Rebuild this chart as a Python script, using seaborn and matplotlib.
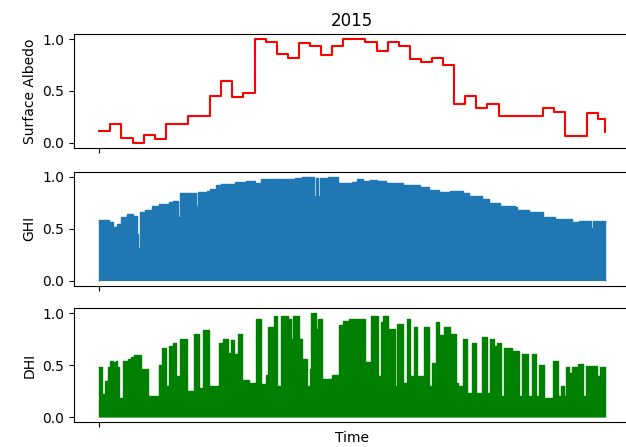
import numpy as np
import pandas as pd
import matplotlib
matplotlib.use("Agg")
import matplotlib.pyplot as plt
import seaborn as sns

# Normalised surface albedo, one value per 8-day composite period (day-of-year start)
albedo_start_day = list(range(0, 361, 8)) + [365]
albedo_value = [0.114, 0.185, 0.042, 0.0, 0.075, 0.04, 0.185, 0.185, 0.26, 0.26,
                0.45, 0.60, 0.445, 0.48, 1.0, 0.97, 0.855, 0.82, 0.965, 0.93,
                0.85, 0.93, 1.0, 1.0, 0.975, 0.89, 0.97, 0.93, 0.81, 0.78,
                0.82, 0.75, 0.37, 0.45, 0.335, 0.37, 0.26, 0.26, 0.26, 0.26,
                0.34, 0.30, 0.07, 0.07, 0.29, 0.23, 0.107]

# Normalised daily peak GHI, as runs: (first day of run, peak value)
ghi_start_day = [0, 7, 10, 13, 16, 20, 24, 27, 28, 29, 33, 38, 43, 50, 53, 57, 58,
                 65, 70, 71, 77, 78, 80, 84, 88, 98, 102, 103, 106, 112, 117, 130,
                 131, 141, 146, 155, 156, 158, 159, 165, 172, 182, 185, 186, 190,
                 195, 200, 207, 214, 219, 231, 238, 245, 252, 253, 262, 267, 276,
                 281, 289, 290, 300, 301, 302, 310, 320, 329, 341, 345, 346, 355, 356]
ghi_value = [0.58, 0.56, 0.52, 0.55, 0.61, 0.64, 0.62, 0.45, 0.31, 0.66, 0.68, 0.72,
             0.74, 0.76, 0.77, 0.61, 0.84, 0.845, 0.72, 0.85, 0.66, 0.86, 0.88, 0.92,
             0.935, 0.95, 0.90, 0.95, 0.96, 0.94, 0.977, 0.93, 0.98, 0.99, 1.0, 0.82,
             0.99, 0.82, 0.99, 1.0, 0.945, 0.95, 0.87, 0.975, 0.96, 0.97, 0.965,
             0.94, 0.945, 0.92, 0.90, 0.877, 0.855, 0.63, 0.86, 0.84, 0.82, 0.79,
             0.75, 0.56, 0.72, 0.71, 0.59, 0.68, 0.66, 0.617, 0.595, 0.56, 0.43,
             0.57, 0.51, 0.57]

# Normalised daily peak DHI, as runs: (first day of run, peak value)
dhi_start_day = [0, 2, 4, 6, 8, 10, 12, 13, 14, 17, 20, 21, 23, 25, 30, 35, 43, 45,
                 48, 50, 53, 55, 58, 63, 68, 72, 75, 79, 86, 89, 93, 95, 97, 100,
                 103, 108, 113, 117, 120, 122, 126, 128, 131, 136, 138, 140, 144,
                 146, 150, 152, 153, 156, 158, 161, 168, 173, 176, 180, 187, 188,
                 192, 196, 201, 203, 205, 208, 213, 215, 219, 222, 224, 227, 229,
                 234, 238, 240, 243, 245, 249, 253, 257, 259, 262, 265, 269, 272,
                 276, 280, 282, 285, 287, 290, 292, 298, 303, 305, 309, 312, 315,
                 317, 321, 327, 331, 333, 335, 337, 339, 341, 345, 349, 351, 359, 361]
dhi_value = [0.48, 0.22, 0.35, 0.48, 0.54, 0.53, 0.54, 0.48, 0.18, 0.54, 0.48, 0.56,
             0.58, 0.60, 0.46, 0.20, 0.50, 0.67, 0.30, 0.69, 0.72, 0.40, 0.755, 0.25,
             0.80, 0.28, 0.84, 0.30, 0.72, 0.755, 0.62, 0.74, 0.61, 0.80, 0.36, 0.33,
             0.95, 0.32, 0.41, 0.87, 0.98, 0.30, 0.98, 0.95, 0.755, 0.98, 0.755,
             0.56, 0.30, 0.46, 1.0, 0.85, 0.95, 0.365, 0.41, 0.89, 0.93, 0.95, 0.38,
             0.95, 0.53, 0.98, 0.40, 0.92, 0.98, 0.85, 0.30, 0.90, 0.33, 0.95, 0.40,
             0.87, 0.40, 0.87, 0.30, 0.52, 0.92, 0.79, 0.87, 0.80, 0.33, 0.30, 0.755,
             0.23, 0.72, 0.23, 0.77, 0.23, 0.755, 0.69, 0.72, 0.20, 0.67, 0.64, 0.20,
             0.61, 0.20, 0.61, 0.20, 0.50, 0.185, 0.54, 0.20, 0.30, 0.20, 0.48, 0.43,
             0.48, 0.51, 0.20, 0.49, 0.40, 0.48]

YEAR_DAYS = 365


def runs_to_frame(starts, values):
    """Expand run starts/values into one row per day plus a closing edge."""
    lengths = np.diff(list(starts) + [YEAR_DAYS])
    daily = np.repeat(values, lengths)
    day = np.arange(YEAR_DAYS + 1)
    return pd.DataFrame({"day": day, "value": np.append(daily, daily[-1])})


albedo_df = pd.DataFrame({"day": albedo_start_day, "value": albedo_value})
ghi_df = runs_to_frame(ghi_start_day, ghi_value)
dhi_df = runs_to_frame(dhi_start_day, dhi_value)

fig = plt.figure(figsize=(6.26, 4.47), dpi=100)
W, H = 626.0, 447.0
left, width, height = 74 / W, 556.6 / W, 114 / H
tops = [34, 171.7, 308.3]
axes = [fig.add_axes([left, 1 - (t + 114) / H, width, height]) for t in tops]
ax_alb, ax_ghi, ax_dhi = axes

sns.lineplot(data=albedo_df, x="day", y="value", ax=ax_alb, color="red",
             drawstyle="steps-post", linewidth=1.5)

for ax, df, color in [(ax_ghi, ghi_df, "#1f77b4"), (ax_dhi, dhi_df, "green")]:
    ax.fill_between(df["day"], df["value"], step="post", color=color, linewidth=0)
    sns.lineplot(data=df, x="day", y="value", ax=ax, color=color,
                 drawstyle="steps-post", linewidth=1.0)
    ax.vlines([0, YEAR_DAYS], 0, [df["value"].iloc[0], df["value"].iloc[-1]],
              color=color, linewidth=1.0)

for ax, label in zip(axes, ["Surface Albedo", "GHI", "DHI"]):
    ax.set_xlim(-0.05 * YEAR_DAYS, 1.05 * YEAR_DAYS)
    ax.set_ylim(-0.05, 1.05)
    ax.set_yticks([0.0, 0.5, 1.0])
    ax.set_yticklabels(["0.0", "0.5", "1.0"])
    ax.set_xticks([0])
    ax.set_xticklabels([])
    ax.set_ylabel(label)
    ax.set_xlabel("")

ax_alb.set_title("2015")
ax_dhi.set_xlabel("Time")
ax_dhi.xaxis.set_label_coords(0.5, -0.075)

fig.savefig("out.png", dpi=100)
